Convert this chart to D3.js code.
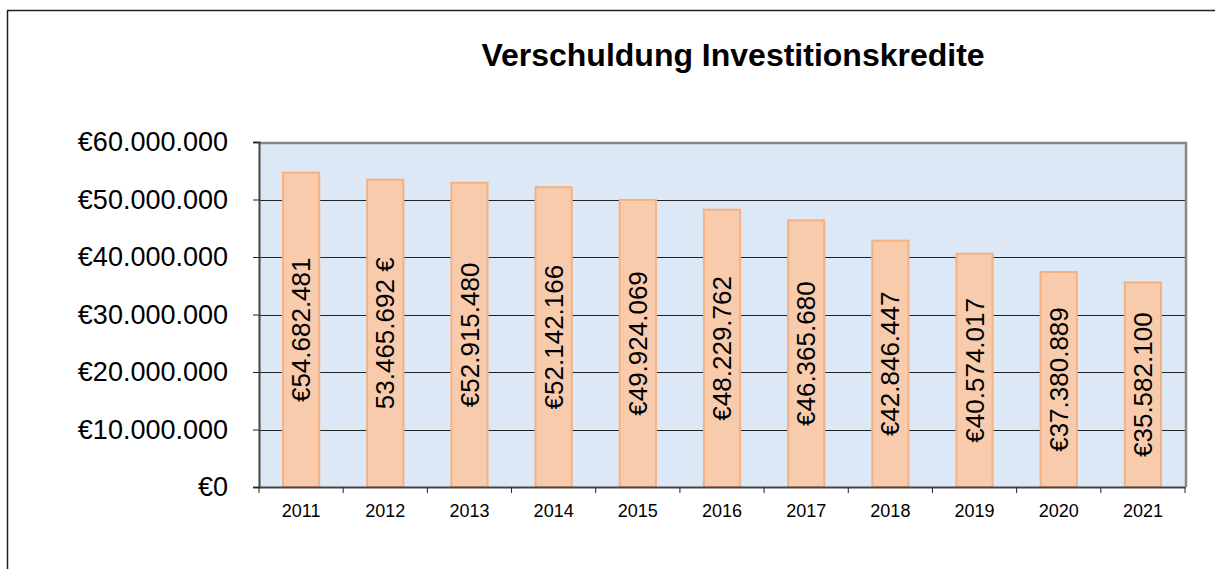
<!DOCTYPE html>
<html>
<head>
<meta charset="utf-8">
<script src="https://cdn.jsdelivr.net/npm/d3@7"></script>
<style>
  body { margin: 0; background: #fff; }
  svg { display: block; font-family: "Liberation Sans", Arial, sans-serif; }
</style>
</head>
<body>
<div id="chart"></div>
<script>
const years = ["2011", "2012", "2013", "2014", "2015", "2016", "2017", "2018", "2019", "2020", "2021"];
const values = [54682481, 53465692, 52915480, 52142166, 49924069, 48229762, 46365680, 42846447, 40574017, 37380889, 35582100];
const valueLabels = ["€54.682.481", "53.465.692 €", "€52.915.480", "€52.142.166", "€49.924.069", "€48.229.762",
    "€46.365.680", "€42.846.447", "€40.574.017", "€37.380.889", "€35.582.100"];
const yTicks = [0, 10000000, 20000000, 30000000, 40000000, 50000000, 60000000];

let width = 1215;
let height = 569;
let plot = { left: 259, top: 142, right: 1185, bottom: 487 };

let svg = d3.select("#chart")
    .append("svg")
    .attr("width", width)
    .attr("height", height);

// outer frame
svg.append("rect")
    .attr("x", 7.5)
    .attr("y", 10.5)
    .attr("width", width)
    .attr("height", height)
    .attr("fill", "#fff")
    .attr("stroke", "#222")
    .attr("stroke-width", 1.5);

svg.append("text")
    .text("Verschuldung Investitionskredite")
    .attr("x", 733)
    .attr("y", 66)
    .attr("text-anchor", "middle")
    .attr("font-size", "32px")
    .attr("font-weight", "bold");

let x = d3.scaleBand()
    .domain(years)
    .range([plot.left, plot.right])
    .paddingInner(0.57)
    .paddingOuter(0.285);

let xCat = d3.scaleBand()
    .domain(years)
    .range([plot.left, plot.right]);

let y = d3.scaleLinear()
    .domain([0, 60000000])
    .range([plot.bottom, plot.top]);

// plot background
svg.append("rect")
    .attr("x", plot.left)
    .attr("y", plot.top)
    .attr("width", plot.right - plot.left)
    .attr("height", plot.bottom - plot.top)
    .attr("fill", "#dce8f5");

// gridlines
svg.selectAll("line.grid")
    .data(yTicks.slice(1, -1))
    .enter()
    .append("line")
    .attr("class", "grid")
    .attr("x1", plot.left)
    .attr("x2", plot.right)
    .attr("y1", d => Math.round(y(d)) + 0.5)
    .attr("y2", d => Math.round(y(d)) + 0.5)
    .attr("stroke", "#222")
    .attr("stroke-width", 1);

// plot border top/right in grey
svg.append("path")
    .attr("d", `M${plot.left},${plot.top + 1}H${plot.right + 1}V${plot.bottom}`)
    .attr("fill", "none")
    .attr("stroke", "#888")
    .attr("stroke-width", 2.5);

// bars
svg.selectAll("rect.bar")
    .data(values)
    .enter()
    .append("rect")
    .attr("class", "bar")
    .attr("x", (d, i) => x(years[i]))
    .attr("y", d => y(d))
    .attr("width", x.bandwidth())
    .attr("height", d => plot.bottom - y(d))
    .attr("fill", "#f8cbad")
    .attr("stroke", "#f4b183")
    .attr("stroke-width", 2);

// y axis
let yAxis = svg.append("g")
    .attr("transform", `translate(${plot.left},0)`)
    .call(d3.axisLeft(y)
        .tickValues(yTicks)
        .tickSize(6)
        .tickPadding(25)
        .tickFormat(d => "€" + d3.format(",")(d).replace(/,/g, ".")));
yAxis.select(".domain").attr("stroke", "#444").attr("stroke-width", 2);
yAxis.selectAll(".tick line").attr("stroke", "#222");
yAxis.selectAll("text")
    .attr("font-size", "27px")
    .attr("font-family", "Liberation Sans, Arial, sans-serif")
    .attr("fill", "#000");

// x axis
let xAxis = svg.append("g")
    .attr("transform", `translate(0,${plot.bottom})`)
    .call(d3.axisBottom(xCat).tickSize(0).tickPadding(17));
xAxis.select(".domain").attr("stroke", "#444").attr("stroke-width", 2);
xAxis.selectAll("text")
    .attr("font-size", "18px")
    .attr("font-family", "Liberation Sans, Arial, sans-serif")
    .attr("fill", "#000");

svg.selectAll("line.xtick")
    .data(years.concat(["end"]))
    .enter()
    .append("line")
    .attr("class", "xtick")
    .attr("x1", (d, i) => plot.left + i * xCat.step())
    .attr("x2", (d, i) => plot.left + i * xCat.step())
    .attr("y1", plot.bottom)
    .attr("y2", plot.bottom + 6)
    .attr("stroke", "#222");

// value labels
svg.selectAll("text.vlabel")
    .data(values)
    .enter()
    .append("text")
    .attr("class", "vlabel")
    .text((d, i) => valueLabels[i])
    .attr("transform", (d, i) => {
        let cx = x(years[i]) + x.bandwidth() / 2;
        let cy = (y(d) + plot.bottom) / 2;
        return `translate(${cx},${cy}) rotate(-90)`;
    })
    .attr("text-anchor", "middle")
    .attr("dy", "0.35em")
    .attr("font-size", "26px")
    .attr("fill", "#000");
</script>
</body>
</html>
